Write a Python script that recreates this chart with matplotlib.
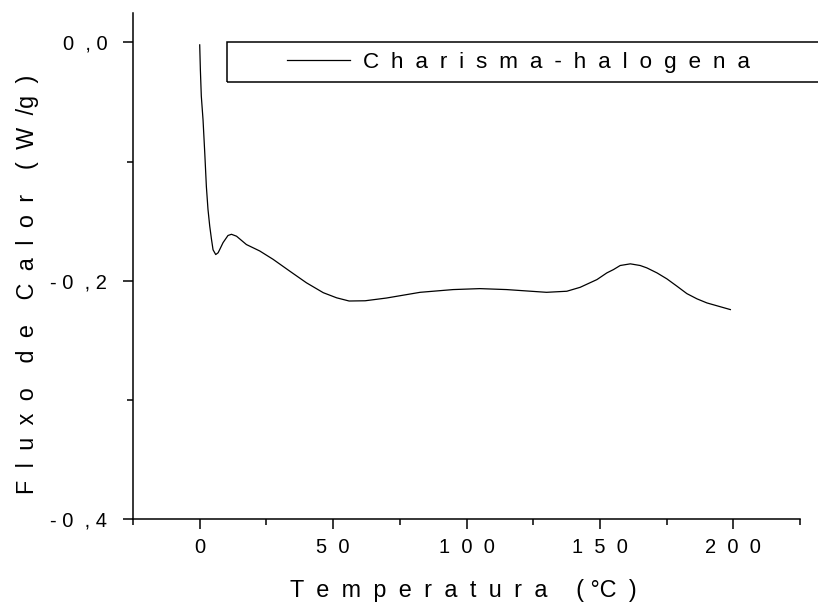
import matplotlib
matplotlib.use("Agg")
import matplotlib.pyplot as plt
from matplotlib.patches import Rectangle
from matplotlib.ticker import MultipleLocator

plt.rcParams["font.family"] = ["Liberation Sans", "DejaVu Sans"]

# DSC curve
temp = [0, 0.25, 0.6, 1.25, 1.9, 2.5, 3.1, 3.75, 4.4, 5, 6, 6.9, 7.5, 8.75,
        10.6, 11.9, 13.8, 17.5, 22.5, 27.5, 33.8, 40, 46.3, 51.3, 56, 62, 70,
        82.6, 95, 105, 115, 130, 137.6, 142.6, 145.7, 148.9, 152.6, 155.1,
        157.6, 161.4, 165.1, 167.6, 171.4, 175.1, 178.9, 182.6, 186.4, 190.1,
        198.9]
flux = [-0.002, -0.023, -0.045, -0.065, -0.093, -0.121, -0.140, -0.154, -0.165,
        -0.174, -0.178, -0.1765, -0.1738, -0.168, -0.162, -0.161, -0.1626,
        -0.1696, -0.175, -0.182, -0.192, -0.2017, -0.210, -0.2143, -0.217,
        -0.2168, -0.2145, -0.2097, -0.2074, -0.2066, -0.2074, -0.2097, -0.2088,
        -0.2055, -0.2023, -0.199, -0.1934, -0.1906, -0.1872, -0.1858, -0.1872,
        -0.1892, -0.1934, -0.1984, -0.2046, -0.2108, -0.2152, -0.2186, -0.2242]

xticks = [0, 50, 100, 150, 200]
xtick_labels = ["0", "5  0", "1  0  0", "1  5  0", "2  0  0"]
yticks = [0.0, -0.2, -0.4]
ytick_labels = ["0  , 0", "- 0  , 2", "- 0  , 4"]

GAP = " \u2005"          # letter spacing like the original (space + 1/4 em)
XGAP = " \u2006\u200a"   # a touch tighter for the x label


def spread(words, gap, word_gap):
    return word_gap.join(gap.join(w) for w in words)


series_name = spread(["Charisma-halogena"], GAP, GAP)
xlabel = spread(["Temperatura"], XGAP, "") + GAP * 2 + "\u2006( °C" + GAP + ")"
ylabel = spread(["Fluxo", "de", "Calor", "(W/"], GAP, GAP * 2).replace("/", "/g" + GAP + ")")

fig = plt.figure(figsize=(8.18, 6.05), dpi=100)
ax = fig.add_axes([0.1626, 0.1421, 0.8154, 0.8369])

ax.plot(temp, flux, color="black", lw=0.9, label=series_name)

ax.set_xlim(-25, 225)
ax.set_ylim(-0.4, 0.025)
ax.set_xticks(xticks)
ax.set_xticklabels(xtick_labels)
ax.set_yticks(yticks)
ax.set_yticklabels(ytick_labels)
ax.xaxis.set_minor_locator(MultipleLocator(25))
ax.yaxis.set_minor_locator(MultipleLocator(0.1))

for s in ["top", "right"]:
    ax.spines[s].set_visible(False)
for s in ["left", "bottom"]:
    ax.spines[s].set_linewidth(1.1)

ax.tick_params(which="major", direction="out", length=7.5, width=1.1,
               labelsize=14.5, color="black")
ax.tick_params(which="minor", direction="out", length=4, width=1.1)
ax.tick_params(axis="x", which="major", pad=6)
ax.tick_params(axis="y", which="major", pad=11)

ax.set_xlabel(xlabel, fontsize=16.8)
ax.set_ylabel(ylabel, fontsize=16.8)
ax.xaxis.set_label_coords(0.496, -0.118)
ax.yaxis.set_label_coords(-0.1405, 0.463)

# legend box, running off the right edge as in the reference
fig.patches.append(Rectangle((0.2775, 0.8645), 0.75, 0.0661, transform=fig.transFigure,
                             fill=False, lw=1.1, edgecolor="black"))
ax.legend(loc="center left", bbox_to_anchor=(0.3509, 0.8975), bbox_transform=fig.transFigure,
          frameon=False, borderpad=0, borderaxespad=0, fontsize=16.2,
          handlelength=2.8, handletextpad=0.56)

fig.savefig("out.png", dpi=100)
